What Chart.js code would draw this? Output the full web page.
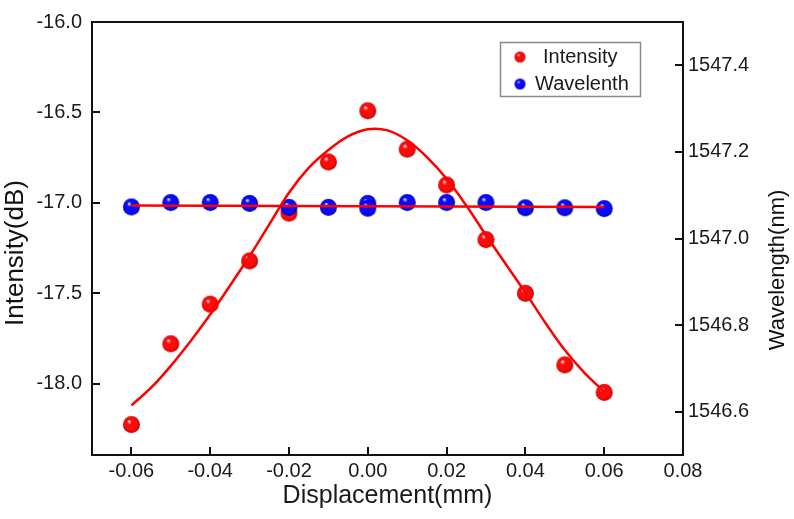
<!DOCTYPE html>
<html>
<head>
<meta charset="utf-8">
<script src="https://cdn.jsdelivr.net/npm/chart.js@4"></script>
<style>
html,body{margin:0;padding:0;background:#fff;}
#wrap{width:794px;height:519px;}
</style>
</head>
<body>
<div id="wrap"><canvas id="c" width="794" height="519"></canvas></div>
<script>
// ---- data ----
const displacement = [-0.06,-0.05,-0.04,-0.03,-0.02,-0.01,0.00,0.01,0.02,0.03,0.04,0.05,0.06];
const intensity = [-18.226,-17.779,-17.560,-17.321,-17.057,-16.774,-16.491,-16.703,-16.901,-17.203,-17.500,-17.896,-18.048];

const wavelengthX = [-0.06,-0.05,-0.04,-0.03,-0.02,-0.01,0.00,0.00,0.01,0.02,0.03,0.04,0.05,0.06];
const wavelength = [1547.073,1547.083,1547.083,1547.081,1547.072,1547.072,1547.081,1547.070,1547.083,1547.083,1547.083,1547.071,1547.071,1547.069];

// fitted curves
const intensityFitX = [-0.060,-0.055,-0.050,-0.045,-0.040,-0.035,-0.030,-0.025,-0.020,-0.015,-0.010,-0.005,0.000,0.005,0.010,0.015,0.020,0.025,0.030,0.035,0.040,0.045,0.050,0.055,0.060];
const intensityFitY = [-18.120,-18.022,-17.901,-17.765,-17.617,-17.458,-17.294,-17.119,-16.944,-16.807,-16.708,-16.632,-16.593,-16.599,-16.654,-16.747,-16.867,-17.015,-17.179,-17.338,-17.496,-17.661,-17.814,-17.940,-18.044];

const wavelengthFitX = [-0.06, 0.06];
const wavelengthFitY = [1547.076, 1547.073];

// tick labels
const xTicks = [-0.06,-0.04,-0.02,0.00,0.02,0.04,0.06,0.08];
const yTicks = [-18.0,-17.5,-17.0,-16.5,-16.0];
const y2Ticks = [1546.6,1546.8,1547.0,1547.2,1547.4];

const seriesNames = ['Intensity', 'Wavelenth'];
const axisTitles = {x: 'Displacement(mm)', y: 'Intensity(dB)', y2: 'Wavelength(nm)'};

// ---- helpers ----
function pairs(xs, ys){ return xs.map((x,i)=>({x:x, y:ys[i]})); }
function setTicks(arr){ return s => { s.ticks = arr.map(v => ({value: v})); }; }

function sphere(r, base, dark, light){
  const s = Math.ceil(r*2)+2;
  const c = document.createElement('canvas');
  c.width = s; c.height = s;
  const g = c.getContext('2d');
  const cx = s/2, cy = s/2;
  const grad = g.createRadialGradient(cx - r*0.3, cy - r*0.4, r*0.04, cx, cy, r);
  grad.addColorStop(0, light);
  grad.addColorStop(0.25, base);
  grad.addColorStop(0.75, base);
  grad.addColorStop(1, dark);
  g.fillStyle = grad;
  g.beginPath(); g.arc(cx, cy, r, 0, Math.PI*2); g.fill();
  return c;
}
const redBall = sphere(8.5, '#ff0a0a', '#b80000', '#fff0f0');
const blueBall = sphere(8.5, '#0a0aff', '#0000a0', '#e4e4ff');
const redBallSmall = sphere(5.5, '#ff0a0a', '#b80000', '#fff0f0');
const blueBallSmall = sphere(5.5, '#0a0aff', '#0000a0', '#e4e4ff');

const FONT = "'Liberation Sans', Arial, sans-serif";

const framePlugin = {
  id: 'frame',
  afterDraw(chart){
    const {ctx, chartArea: a, scales} = chart;
    ctx.save();
    ctx.strokeStyle = '#111';
    ctx.lineWidth = 2;
    ctx.strokeRect(a.left, a.top, a.right - a.left, a.bottom - a.top);
    const L = 8;
    ctx.beginPath();
    scales.x.ticks.forEach(t=>{
      const px = Math.round(scales.x.getPixelForValue(t.value));
      ctx.moveTo(px, a.bottom); ctx.lineTo(px, a.bottom - L);
    });
    scales.y.ticks.forEach(t=>{
      const py = Math.round(scales.y.getPixelForValue(t.value));
      ctx.moveTo(a.left, py); ctx.lineTo(a.left + L, py);
    });
    scales.y2.ticks.forEach(t=>{
      const py = Math.round(scales.y2.getPixelForValue(t.value));
      ctx.moveTo(a.right, py); ctx.lineTo(a.right - L, py);
    });
    ctx.stroke();

    // vertical axis titles (both read bottom-to-top)
    ctx.fillStyle = '#111';
    ctx.textAlign = 'center';
    ctx.textBaseline = 'middle';
    ctx.save();
    ctx.translate(16, 253);
    ctx.rotate(-Math.PI/2);
    ctx.font = '26px ' + FONT;
    ctx.fillText(axisTitles.y, 0, 0);
    ctx.restore();
    ctx.save();
    ctx.translate(778, 270);
    ctx.rotate(-Math.PI/2);
    ctx.font = '22px ' + FONT;
    ctx.fillText(axisTitles.y2, 0, 0);
    ctx.restore();

    // legend
    ctx.fillStyle = '#fff';
    ctx.fillRect(500, 42, 141, 55);
    ctx.strokeStyle = '#8a8a8a';
    ctx.lineWidth = 1.5;
    ctx.strokeRect(500.5, 42.5, 140, 54);
    ctx.drawImage(redBallSmall, 520 - redBallSmall.width/2, 57 - redBallSmall.height/2);
    ctx.drawImage(blueBallSmall, 520 - blueBallSmall.width/2, 84 - blueBallSmall.height/2);
    ctx.fillStyle = '#1a1a1a';
    ctx.font = '20px ' + FONT;
    ctx.textAlign = 'left';
    ctx.fillText(seriesNames[0], 543, 57);
    ctx.fillText(seriesNames[1], 535, 84);
    ctx.restore();
  }
};

const tickFont = {family: FONT, size: 20};
const noGrid = {display: false, drawTicks: false};

new Chart(document.getElementById('c'), {
  type: 'scatter',
  data: {
    datasets: [
      {
        label: seriesNames[0],
        data: pairs(displacement, intensity),
        yAxisID: 'y',
        pointStyle: redBall,
        pointRadius: 8.5,
        showLine: false,
        order: 4
      },
      {
        label: seriesNames[1],
        data: pairs(wavelengthX, wavelength),
        yAxisID: 'y2',
        pointStyle: blueBall,
        pointRadius: 8.5,
        showLine: false,
        order: 3
      },
      {
        label: 'Intensity fit',
        data: pairs(intensityFitX, intensityFitY),
        yAxisID: 'y',
        showLine: true,
        pointRadius: 0,
        borderColor: '#ff0000',
        borderWidth: 2.5,
        tension: 0.4,
        order: 2
      },
      {
        label: 'Wavelength fit',
        data: pairs(wavelengthFitX, wavelengthFitY),
        yAxisID: 'y2',
        showLine: true,
        pointRadius: 0,
        borderColor: '#ff0000',
        borderWidth: 2.5,
        order: 1
      }
    ]
  },
  options: {
    responsive: false,
    animation: false,
    devicePixelRatio: 1,
    layout: {padding: {top: 18, left: 0, right: 0, bottom: 0}},
    plugins: {legend: {display: false}, tooltip: {enabled: false}},
    scales: {
      x: {
        type: 'linear',
        position: 'bottom',
        min: -0.07, max: 0.08,
        grid: noGrid,
        border: {display: false},
        afterBuildTicks: setTicks(xTicks),
        ticks: {
          padding: 4, color: '#1a1a1a', font: tickFont,
          callback: v => (Math.abs(v) < 1e-9 ? 0 : v).toFixed(2)
        },
        title: {display: true, text: axisTitles.x, color: '#1a1a1a',
                font: {family: FONT, size: 25}, padding: {top: 0, bottom: 8}},
        afterFit: s => { s.height = 64; }
      },
      y: {
        type: 'linear',
        position: 'left',
        min: -18.394, max: -16.0,
        grid: noGrid,
        border: {display: false},
        afterBuildTicks: setTicks(yTicks),
        ticks: {
          padding: 10, color: '#1a1a1a', font: tickFont,
          callback: v => v.toFixed(1)
        },
        afterFit: s => { s.width = 92; }
      },
      y2: {
        type: 'linear',
        position: 'right',
        min: 1546.5, max: 1547.5,
        grid: noGrid,
        border: {display: false},
        afterBuildTicks: setTicks(y2Ticks),
        ticks: {
          padding: 5, color: '#1a1a1a', font: tickFont,
          callback: v => v.toFixed(1)
        },
        afterFit: s => { s.width = 111; }
      }
    }
  },
  plugins: [framePlugin]
});
</script>
</body>
</html>
